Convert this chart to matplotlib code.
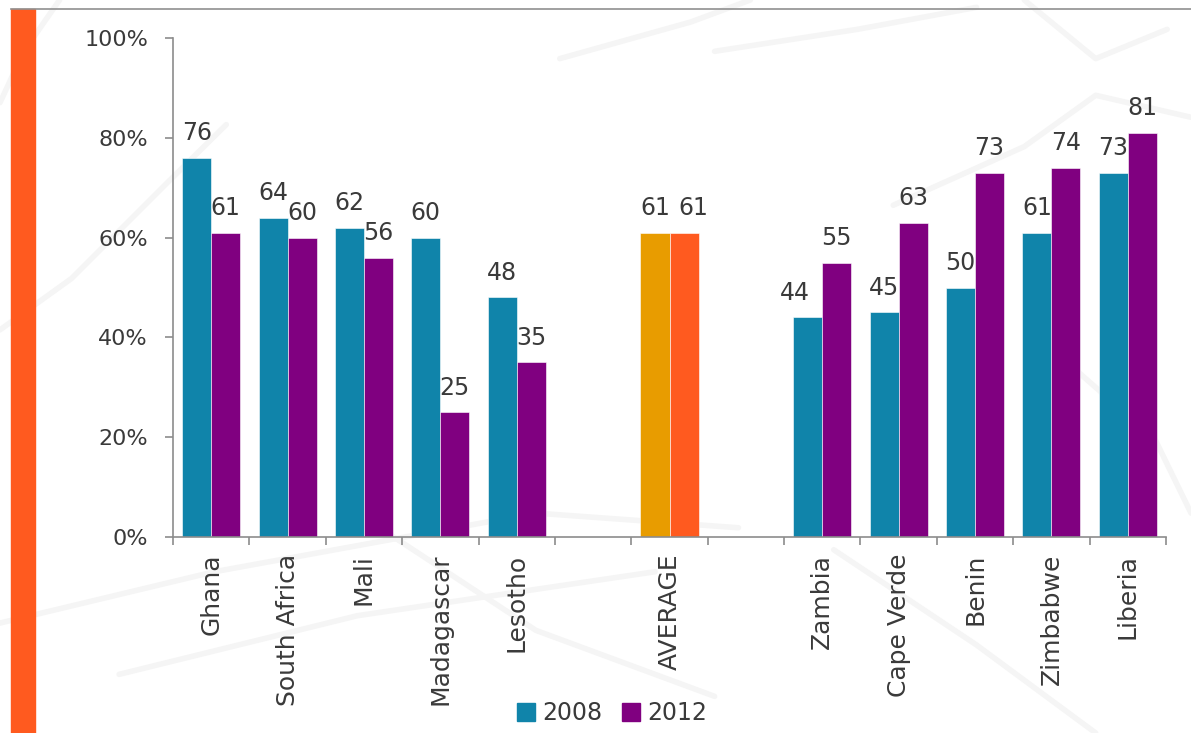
import numpy as np
import matplotlib.pyplot as plt
from matplotlib.patches import Rectangle
from matplotlib.lines import Line2D

# survey results, % per country
countries = ['Ghana', 'South Africa', 'Mali', 'Madagascar', 'Lesotho', '',
             'AVERAGE', '', 'Zambia', 'Cape Verde', 'Benin', 'Zimbabwe', 'Liberia']
vals_2008 = [76, 64, 62, 60, 48, None, 61, None, 44, 45, 50, 61, 73]
vals_2012 = [61, 60, 56, 25, 35, None, 61, None, 55, 63, 73, 74, 81]
yticks = [0, 20, 40, 60, 80, 100]

TEAL = '#1084aa'
PURPLE = '#800080'
AVG_2008 = '#e89c00'
AVG_2012 = '#ff5a1f'
TEXT = '#3a3a3a'
AXIS = '#8c8c8c'

plt.rcParams['font.family'] = ['DejaVu Sans']

fig = plt.figure(figsize=(11.91, 7.33), dpi=100)

# faint decorative strokes in the background
deco = [
    [(0.05, 1.0), (0.02, 0.93), (0.0, 0.86)],
    [(0.0, 0.55), (0.06, 0.62), (0.14, 0.75), (0.19, 0.83)],
    [(0.47, 0.92), (0.58, 0.97), (0.63, 1.0)],
    [(0.60, 0.93), (0.72, 0.96), (0.82, 0.99)],
    [(0.75, 0.72), (0.86, 0.80), (0.92, 0.87), (1.0, 0.84)],
    [(0.86, 1.0), (0.92, 0.92), (0.98, 0.96)],
    [(0.0, 0.15), (0.18, 0.22), (0.45, 0.30), (0.62, 0.28)],
    [(0.10, 0.08), (0.30, 0.16), (0.55, 0.22)],
    [(0.30, 0.30), (0.45, 0.14), (0.60, 0.05)],
    [(0.70, 0.25), (0.82, 0.12), (0.92, 0.0)],
    [(0.90, 0.50), (0.97, 0.40), (1.0, 0.30)],
]
for pts in deco:
    xs, ys = zip(*pts)
    fig.add_artist(Line2D(xs, ys, transform=fig.transFigure, color='#f5f5f5',
                          lw=4, zorder=0, solid_capstyle='round'))

# slide frame: orange strip and thin top rule
fig.add_artist(Rectangle((11 / 1191, 0), 24 / 1191, 1 - 9 / 733,
                         transform=fig.transFigure, color=AVG_2012, zorder=1))
fig.add_artist(Line2D([11 / 1191, 1.0], [1 - 9 / 733, 1 - 9 / 733],
                      transform=fig.transFigure, color='#909090', lw=1.2, zorder=1))

ax = fig.add_axes([173 / 1191, 1 - 537 / 733, 993 / 1191, 499 / 733])
ax.set_facecolor('none')

# small sideways nudges (points) for labels that would collide
nudge_2008 = {'Zambia': -9.5}
nudge_2012 = {'AVERAGE': 7}

x = np.arange(len(countries))
w = 0.38
for i, (a, b) in enumerate(zip(vals_2008, vals_2012)):
    if a is None:
        continue
    name = countries[i]
    ca, cb = (AVG_2008, AVG_2012) if name == 'AVERAGE' else (TEAL, PURPLE)
    ax.bar(x[i] - w / 2, a, w, color=ca, edgecolor='#ffffff', linewidth=0.4, zorder=2)
    ax.bar(x[i] + w / 2, b, w, color=cb, edgecolor='#ffffff', linewidth=0.4, zorder=2)
    ax.annotate(f'{a}', (x[i] - w / 2, a), xytext=(nudge_2008.get(name, 0), 12.5),
                textcoords='offset points', ha='center', va='baseline',
                fontsize=17, color=TEXT)
    ax.annotate(f'{b}', (x[i] + w / 2, b), xytext=(nudge_2012.get(name, 0), 12.5),
                textcoords='offset points', ha='center', va='baseline',
                fontsize=17, color=TEXT)

ax.set_xlim(-0.5, len(countries) - 0.5)
ax.set_ylim(0, 100)

ax.set_yticks(yticks)
ax.set_yticklabels([f'{t}%' for t in yticks])
ax.tick_params(axis='y', length=6, width=1.2, color=AXIS, pad=12,
               labelsize=16, labelcolor=TEXT)

ax.set_xticks(x)
ax.set_xticklabels(countries, rotation=90, va='top', ha='center')
ax.tick_params(axis='x', which='major', length=0, pad=12, labelsize=18, labelcolor=TEXT)
ax.set_xticks(np.arange(len(countries) + 1) - 0.5, minor=True)
ax.tick_params(axis='x', which='minor', length=6, width=1.2, color=AXIS)

for side in ['top', 'right']:
    ax.spines[side].set_visible(False)
for side in ['left', 'bottom']:
    ax.spines[side].set_color(AXIS)
    ax.spines[side].set_linewidth(1.2)

handles = [Rectangle((0, 0), 1, 1, color=TEAL), Rectangle((0, 0), 1, 1, color=PURPLE)]
fig.legend(handles, ['2008', '2012'], loc='center', bbox_to_anchor=(612 / 1191, 1 - 713 / 733),
           ncol=2, frameon=False, fontsize=17, handlelength=0.8, handleheight=0.8,
           handletextpad=0.3, columnspacing=0.8, labelcolor=TEXT)

fig.savefig('out.png', dpi=100)
